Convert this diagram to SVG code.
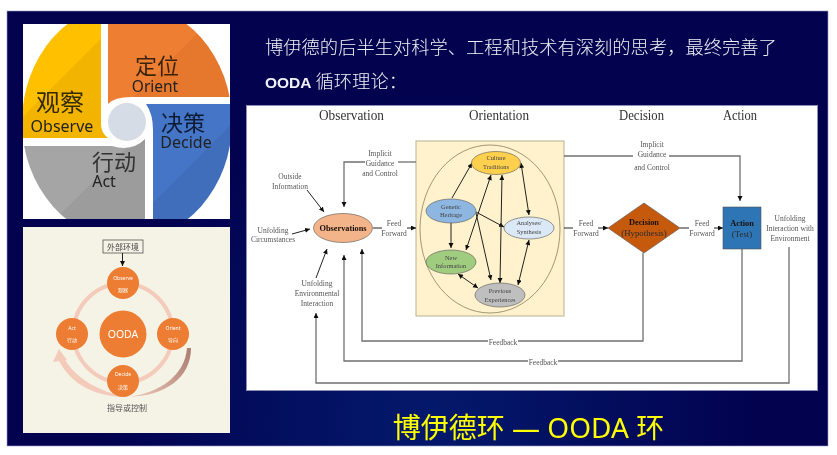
<svg xmlns="http://www.w3.org/2000/svg" width="837" height="455" viewBox="0 0 837 455">
<style>
.s{font-family:"Liberation Serif","Noto Sans CJK SC",serif;text-anchor:middle}
.h{font-size:14px;fill:#333}
.l{font-size:7.5px;fill:#555}
.n{font-size:6.4px;fill:#444}
.b{font-size:8.3px;font-weight:bold;fill:#1a100a}
.r{font-size:8.8px;fill:#2a2a2a}
.c{font-family:"Noto Sans CJK SC","Noto Sans",sans-serif;text-anchor:middle}
.p{font-family:"Noto Sans","Noto Sans CJK SC",sans-serif;text-anchor:middle;fill:#222}
.w{fill:#fff;font-size:5px}
.e{fill:#ed7d31}
.cn{stroke:#707070;stroke-width:1.3;fill:none}
.k{stroke:#222;stroke-width:1;fill:none}
.a{marker-end:url(#ah)}
.d{marker-end:url(#ah);marker-start:url(#as)}
.node{stroke:#555;stroke-width:.6}
</style>
<defs>
<marker id="ah" markerUnits="userSpaceOnUse" markerWidth="6" markerHeight="6" refX="5" refY="2.5" orient="auto"><path d="M0,0L5,2.5L0,5z" fill="#111"/></marker>
<marker id="as" markerUnits="userSpaceOnUse" markerWidth="6" markerHeight="6" refX="0" refY="2.5" orient="auto"><path d="M5,0L0,2.5L5,5z" fill="#111"/></marker>
<filter id="soft" x="-2%" y="-2%" width="104%" height="104%"><feGaussianBlur stdDeviation="0.4"/></filter>
<radialGradient id="bg" gradientUnits="userSpaceOnUse" cx="430" cy="420" r="330"><stop offset="0" stop-color="#04196c"/><stop offset="1" stop-color="#02024f"/></radialGradient>
<clipPath id="pie"><ellipse cx="127" cy="122" rx="105" ry="119"/></clipPath>
<linearGradient id="gy" gradientUnits="userSpaceOnUse" x1="42" y1="62" x2="78" y2="98"><stop offset=".5" stop-color="#ffc000"/><stop offset=".5" stop-color="#f3b400"/></linearGradient>
<linearGradient id="go" gradientUnits="userSpaceOnUse" x1="142" y1="52" x2="178" y2="88"><stop offset=".5" stop-color="#ee7f33"/><stop offset=".5" stop-color="#e6782e"/></linearGradient>
<linearGradient id="gb" gradientUnits="userSpaceOnUse" x1="172" y1="147" x2="208" y2="183"><stop offset=".5" stop-color="#4474c6"/><stop offset=".5" stop-color="#3f6eba"/></linearGradient>
<linearGradient id="gg" gradientUnits="userSpaceOnUse" x1="82" y1="156" x2="118" y2="192"><stop offset=".5" stop-color="#a5a5a5"/><stop offset=".5" stop-color="#9c9c9c"/></linearGradient>
<linearGradient id="ga" gradientUnits="userSpaceOnUse" x1="128" y1="397" x2="190" y2="350"><stop offset="0" stop-color="#f3cbbc"/><stop offset="1" stop-color="#ab7f72"/></linearGradient>
</defs>
<rect width="837" height="455" fill="#fff"/>
<rect x="7" y="11" width="821" height="435" fill="url(#bg)" stroke="#9a9ac8" stroke-width=".6"/>
<g filter="url(#soft)">
<g id="panel-wheel">
<rect x="23" y="24" width="207" height="195" fill="#fff"/>
<g clip-path="url(#pie)">
<path id="q-observe" d="M23,24H101V124Q101,133 108,138H23z" fill="url(#gy)"/>
<path id="q-orient" d="M108,24H230V97H132Q114,97 108,104z" fill="url(#go)"/>
<path id="q-decide" d="M146,104H230V219H153V130Q153,114 146,104z" fill="url(#gb)"/>
<path id="q-act" d="M23,146H112Q132,152 145,139V219H23z" fill="url(#gg)"/>
</g>
<circle id="hub" cx="127" cy="122" r="19" fill="#d6dce5"/>
<g id="wheel-labels">
<text class="c" x="157" y="74" font-size="22" fill="#3a2410">定位</text>
<text class="p" x="155" y="92" font-size="15.500">Orient</text>
<text class="c" x="60" y="111" font-size="24" fill="#332a00">观察</text>
<text class="p" x="62" y="132" font-size="16">Observe</text>
<text class="c" x="183" y="131" font-size="22" fill="#0d1a33">决策</text>
<text class="p" x="186" y="148" font-size="16">Decide</text>
<text class="c" x="114" y="170" font-size="22" fill="#333">行动</text>
<text class="p" x="104" y="187" font-size="16">Act</text>
</g>
</g>
<g id="panel-ooda">
<rect x="23" y="227" width="207" height="206" fill="#f5f3e6"/>
<circle cx="123" cy="333" r="49.500" fill="none" stroke="#f4cbbb" stroke-width="4"/>
<path d="M191,348H187C185,375 160,393 128,397C165,396 191,378 191,348z" fill="url(#ga)"/>
<path d="M128,397C95,397 72,385 59,361L65,360C78,380 100,392 128,397z" fill="#f4cbbb"/>
<path d="M53,362L59,349L67,360z" fill="#f4cbbb"/>
<g id="box-env"><rect x="103" y="240" width="40" height="13" fill="#f5f3e6" stroke="#555" stroke-width=".8"/><text class="c" x="123" y="249.500" font-size="8" fill="#444">外部环境</text></g>
<path d="M122.500,253V266" class="k a"/>
<g id="o-observe"><circle class="e" cx="123" cy="283" r="16"/><text class="p w" x="123" y="279.500" style="fill:#fff">Observe</text><text class="c w" x="123" y="291.500">观察</text></g>
<g id="o-act"><circle class="e" cx="72" cy="334" r="16"/><text class="p w" x="72" y="330" style="fill:#fff">Act</text><text class="c w" x="72" y="342">行动</text></g>
<g id="o-orient"><circle class="e" cx="173" cy="334" r="16"/><text class="p w" x="173" y="330" style="fill:#fff">Orient</text><text class="c w" x="173" y="342">导向</text></g>
<g id="o-decide"><circle class="e" cx="123" cy="381" r="16"/><text class="p w" x="123" y="376" style="fill:#fff">Decide</text><text class="c w" x="123" y="388.500">决策</text></g>
<g id="o-center"><circle class="e" cx="123" cy="334" r="23.500"/><text class="p" x="123" y="338" font-size="10.500" style="fill:#fff">OODA</text></g>
<text class="c" x="127" y="411" font-size="8" fill="#555">指导或控制</text>
</g>
<g id="heading">
<text class="c" x="265" y="54" font-size="18.300" fill="#f0f0f5" style="text-anchor:start;font-weight:300">博伊德的后半生对科学、工程和技术有深刻的思考，最终完善了</text>
<text x="265" y="88" fill="#f0f0f5" style="font-family:'Liberation Sans','Noto Sans CJK SC',sans-serif"><tspan font-size="15.500" font-weight="bold">OODA</tspan><tspan font-size="18.300" font-weight="300" font-family="Noto Sans CJK SC"> 循环理论：</tspan></text>
</g>
<g id="panel-diagram">
<rect x="246.500" y="105.500" width="571" height="285" fill="#fff" stroke="#8f8fb5"/>
<text class="s h" x="351.500" y="120" textLength="65" lengthAdjust="spacingAndGlyphs">Observation</text>
<text class="s h" x="499" y="120" textLength="60" lengthAdjust="spacingAndGlyphs">Orientation</text>
<text class="s h" x="641.500" y="120" textLength="45" lengthAdjust="spacingAndGlyphs">Decision</text>
<text class="s h" x="740" y="120" textLength="34" lengthAdjust="spacingAndGlyphs">Action</text>
<rect id="orientation-box" x="416" y="141" width="148" height="175" fill="#fff2cc" stroke="#b9b18f"/>
<ellipse cx="490" cy="229" rx="70" ry="84" fill="none" stroke="#8a8060" stroke-width=".8"/>
<g id="connectors">
<path class="cn" d="M416,162H398"/>
<path class="cn a" d="M365,162H344V207"/>
<path class="k a" d="M307,190L324,212"/>
<path class="k a" d="M292,234L310,229"/>
<path class="k a" d="M316,278L327,249"/>
<path class="k" d="M373,228H382"/>
<path class="k a" d="M407,228H416"/>
<path class="k a" d="M452,198L472,163"/>
<path class="k a" d="M451,223V248"/>
<path class="k a" d="M476,212L504,227"/>
<path class="k a" d="M476,213L491,280"/>
<path class="k d" d="M491,175L466,250"/>
<path class="k d" d="M502,175L500,283"/>
<path class="k d" d="M521,163L529,215"/>
<path class="k d" d="M529,240L518,285"/>
<path class="k d" d="M458,274L478,288"/>
<path class="cn" d="M564,156H633"/>
<path class="cn a" d="M669,156H740V201"/>
<path class="k" d="M564,228H573"/>
<path class="k a" d="M598,228H608"/>
<path class="k" d="M680,228H689"/>
<path class="k a" d="M714,228H723"/>
<path class="cn a" d="M643,253V341H362V249"/>
<path class="cn a" d="M742,249V361H344V255"/>
<path class="cn a" d="M789,247V383H316V313"/>
</g>
<g id="n-observations"><ellipse class="node" cx="343" cy="228" rx="29.500" ry="14.500" fill="#f4b48a"/><text class="s b" x="343" y="231">Observations</text></g>
<g id="n-culture"><ellipse class="node" cx="496" cy="163" rx="24.500" ry="11.500" fill="#ffd04d"/><text class="s n" x="496" y="160">Culture</text><text class="s n" x="496" y="168.500">Traditions</text></g>
<g id="n-genetic"><ellipse class="node" cx="451" cy="211" rx="25" ry="12" fill="#8db6e0"/><text class="s n" x="451" y="208.500">Genetic</text><text class="s n" x="451" y="217">Heritage</text></g>
<g id="n-analyses"><ellipse class="node" cx="529" cy="228" rx="25" ry="11" fill="#dbe8f5"/><text class="s n" x="529" y="225">Analyses/</text><text class="s n" x="529" y="234">Synthesis</text></g>
<g id="n-new"><ellipse class="node" cx="451" cy="262" rx="25" ry="12" fill="#a0cc80"/><text class="s n" x="451" y="259.500">New</text><text class="s n" x="451" y="268">Information</text></g>
<g id="n-previous"><ellipse class="node" cx="500" cy="295" rx="25" ry="12" fill="#bfbfbf"/><text class="s n" x="500" y="293">Previous</text><text class="s n" x="500" y="302">Experiences</text></g>
<g id="n-decision"><path class="node" d="M608,228L644,203L680,228L644,253z" fill="#c55a11"/><text class="s b" x="644" y="225">Decision</text><text class="s r" x="644" y="236">(Hypothesis)</text></g>
<g id="n-action"><rect class="node" x="723" y="207" width="38" height="42" fill="#2e75b6"/><text class="s b" x="742" y="226">Action</text><text class="s r" x="742" y="237">(Test)</text></g>
<g id="labels">
<text class="s l" x="290" y="179">Outside</text><text class="s l" x="290" y="189">Information</text>
<text class="s l" x="273" y="232.500">Unfolding</text><text class="s l" x="273" y="242">Circumstances</text>
<text class="s l" x="317" y="285.500">Unfolding</text><text class="s l" x="317" y="295.500">Environmental</text><text class="s l" x="317" y="305.500">Interaction</text>
<text class="s l" x="380" y="155.500">Implicit</text><text class="s l" x="380" y="165.500">Guidance</text><text class="s l" x="380" y="175.500">and Control</text>
<text class="s l" x="394" y="225.500">Feed</text><text class="s l" x="394" y="235.500">Forward</text>
<text class="s l" x="652" y="146.500">Implicit</text><text class="s l" x="652" y="156.500">Guidance</text><text class="s l" x="652" y="169.500">and Control</text>
<text class="s l" x="586" y="225.500">Feed</text><text class="s l" x="586" y="235.500">Forward</text>
<text class="s l" x="702" y="225.500">Feed</text><text class="s l" x="702" y="235.500">Forward</text>
<text class="s l" x="790" y="220.500">Unfolding</text><text class="s l" x="790" y="230.500">Interaction with</text><text class="s l" x="790" y="240.500">Environment</text>
<rect x="488" y="338" width="30" height="7" fill="#fff"/>
<rect x="528" y="358" width="30" height="7" fill="#fff"/>
<text class="s l" x="503" y="344.500">Feedback</text>
<text class="s l" x="543" y="364.500">Feedback</text>
</g>
</g>
<text id="caption" x="528.500" y="438" font-size="28" fill="#ffff00" text-anchor="middle" font-family="'Noto Sans','Noto Sans CJK SC',sans-serif">博伊德环 — OODA 环</text>
</g>
</svg>
